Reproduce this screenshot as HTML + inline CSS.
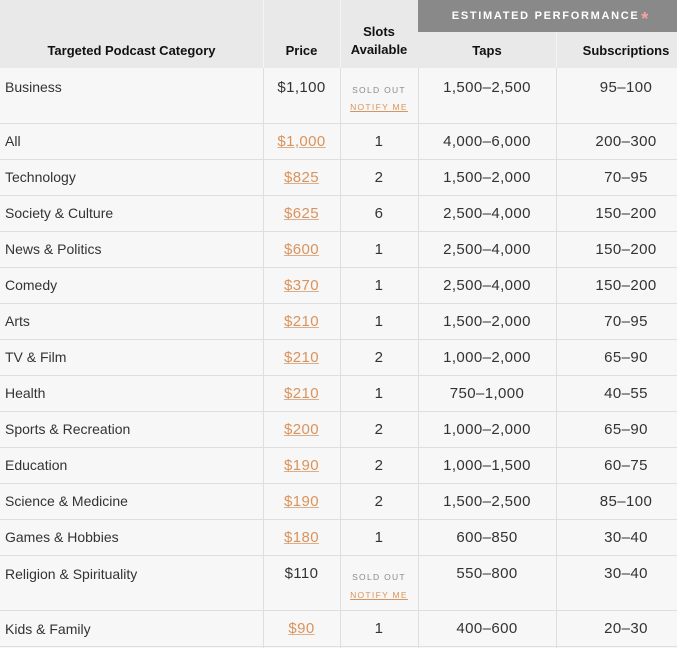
<!DOCTYPE html>
<html><head><meta charset="utf-8">
<style>
*{margin:0;padding:0;box-sizing:border-box}
html,body{width:677px;height:648px;overflow:hidden;background:#f7f7f7}
body{position:relative;font-family:"Liberation Sans",sans-serif;color:#333}
.hdr{position:absolute;left:0;top:0;width:700px;height:68px;background:#e9e9e9}
.band{position:absolute;left:418px;top:0;width:282px;height:32px;background:#898989;color:#fff;font-weight:bold;font-size:11px;letter-spacing:1.7px;text-align:center;line-height:32px;padding-right:18px}
.band span{color:#f4a3a3;font-size:18px;letter-spacing:0;vertical-align:-6px;margin-left:-3px;line-height:10px}
.hl{position:absolute;left:0;width:700px;height:1px;background:#dedede}
.vl{position:absolute;top:68px;width:1px;height:580px;background:#dedede}
.hvl{position:absolute;width:1px;background:#f4f4f4}
.h{position:absolute;font-weight:bold;font-size:13px;color:#111;text-align:center;line-height:18px}
.c{position:absolute;left:5px;font-size:14px;line-height:18px}
.n{position:absolute;font-size:15px;letter-spacing:0.4px;text-align:center;line-height:18px}
.p{color:#d9935c;text-decoration:underline;text-decoration-color:#dfae86}
.so{position:absolute;left:340px;width:78px;text-align:center;font-size:8.5px;letter-spacing:1.3px;color:#8a8a8a;line-height:10px}
.nm{position:absolute;left:340px;width:78px;text-align:center;font-size:8.5px;letter-spacing:1.3px;color:#d9935c;line-height:10px;text-decoration:underline}
</style></head><body>
<div class="hdr"></div>
<div class="band">ESTIMATED PERFORMANCE <span>*</span></div>
<div class="hvl" style="left:263px;top:0;height:68px"></div>
<div class="hvl" style="left:340px;top:0;height:68px"></div>
<div class="hvl" style="left:556px;top:32px;height:36px"></div>
<div class="h" style="left:0;width:263px;top:42px">Targeted Podcast Category</div>
<div class="h" style="left:263px;width:77px;top:42px">Price</div>
<div class="h" style="left:340px;width:78px;top:23px">Slots<br>Available</div>
<div class="h" style="left:418px;width:138px;top:42px">Taps</div>
<div class="h" style="left:556px;width:140px;top:42px">Subscriptions</div>

<div class="vl" style="left:263px"></div>
<div class="vl" style="left:340px"></div>
<div class="vl" style="left:418px"></div>
<div class="vl" style="left:556px"></div>

<div class="hl" style="top:123px"></div>
<div class="hl" style="top:159px"></div>
<div class="hl" style="top:195px"></div>
<div class="hl" style="top:231px"></div>
<div class="hl" style="top:267px"></div>
<div class="hl" style="top:303px"></div>
<div class="hl" style="top:339px"></div>
<div class="hl" style="top:375px"></div>
<div class="hl" style="top:411px"></div>
<div class="hl" style="top:447px"></div>
<div class="hl" style="top:483px"></div>
<div class="hl" style="top:519px"></div>
<div class="hl" style="top:555px"></div>
<div class="hl" style="top:610px"></div>
<div class="hl" style="top:646px"></div>

<!-- Business -->
<div class="c" style="top:78px">Business</div>
<div class="n" style="left:263px;width:77px;top:79px">$1,100</div>
<div class="so" style="top:85px">SOLD OUT</div>
<div class="nm" style="top:102px">NOTIFY ME</div>
<div class="n" style="left:418px;width:138px;top:79px">1,500–2,500</div>
<div class="n" style="left:556px;width:140px;top:79px">95–100</div>

<!-- rows -->
<div class="c" style="top:132px">All</div>
<div class="n" style="left:263px;width:77px;top:133px"><span class="p">$1,000</span></div>
<div class="n" style="left:340px;width:78px;top:133px">1</div>
<div class="n" style="left:418px;width:138px;top:133px">4,000–6,000</div>
<div class="n" style="left:556px;width:140px;top:133px">200–300</div>

<div class="c" style="top:168px">Technology</div>
<div class="n" style="left:263px;width:77px;top:169px"><span class="p">$825</span></div>
<div class="n" style="left:340px;width:78px;top:169px">2</div>
<div class="n" style="left:418px;width:138px;top:169px">1,500–2,000</div>
<div class="n" style="left:556px;width:140px;top:169px">70–95</div>

<div class="c" style="top:204px">Society &amp; Culture</div>
<div class="n" style="left:263px;width:77px;top:205px"><span class="p">$625</span></div>
<div class="n" style="left:340px;width:78px;top:205px">6</div>
<div class="n" style="left:418px;width:138px;top:205px">2,500–4,000</div>
<div class="n" style="left:556px;width:140px;top:205px">150–200</div>

<div class="c" style="top:240px">News &amp; Politics</div>
<div class="n" style="left:263px;width:77px;top:241px"><span class="p">$600</span></div>
<div class="n" style="left:340px;width:78px;top:241px">1</div>
<div class="n" style="left:418px;width:138px;top:241px">2,500–4,000</div>
<div class="n" style="left:556px;width:140px;top:241px">150–200</div>

<div class="c" style="top:276px">Comedy</div>
<div class="n" style="left:263px;width:77px;top:277px"><span class="p">$370</span></div>
<div class="n" style="left:340px;width:78px;top:277px">1</div>
<div class="n" style="left:418px;width:138px;top:277px">2,500–4,000</div>
<div class="n" style="left:556px;width:140px;top:277px">150–200</div>

<div class="c" style="top:312px">Arts</div>
<div class="n" style="left:263px;width:77px;top:313px"><span class="p">$210</span></div>
<div class="n" style="left:340px;width:78px;top:313px">1</div>
<div class="n" style="left:418px;width:138px;top:313px">1,500–2,000</div>
<div class="n" style="left:556px;width:140px;top:313px">70–95</div>

<div class="c" style="top:348px">TV &amp; Film</div>
<div class="n" style="left:263px;width:77px;top:349px"><span class="p">$210</span></div>
<div class="n" style="left:340px;width:78px;top:349px">2</div>
<div class="n" style="left:418px;width:138px;top:349px">1,000–2,000</div>
<div class="n" style="left:556px;width:140px;top:349px">65–90</div>

<div class="c" style="top:384px">Health</div>
<div class="n" style="left:263px;width:77px;top:385px"><span class="p">$210</span></div>
<div class="n" style="left:340px;width:78px;top:385px">1</div>
<div class="n" style="left:418px;width:138px;top:385px">750–1,000</div>
<div class="n" style="left:556px;width:140px;top:385px">40–55</div>

<div class="c" style="top:420px">Sports &amp; Recreation</div>
<div class="n" style="left:263px;width:77px;top:421px"><span class="p">$200</span></div>
<div class="n" style="left:340px;width:78px;top:421px">2</div>
<div class="n" style="left:418px;width:138px;top:421px">1,000–2,000</div>
<div class="n" style="left:556px;width:140px;top:421px">65–90</div>

<div class="c" style="top:456px">Education</div>
<div class="n" style="left:263px;width:77px;top:457px"><span class="p">$190</span></div>
<div class="n" style="left:340px;width:78px;top:457px">2</div>
<div class="n" style="left:418px;width:138px;top:457px">1,000–1,500</div>
<div class="n" style="left:556px;width:140px;top:457px">60–75</div>

<div class="c" style="top:492px">Science &amp; Medicine</div>
<div class="n" style="left:263px;width:77px;top:493px"><span class="p">$190</span></div>
<div class="n" style="left:340px;width:78px;top:493px">2</div>
<div class="n" style="left:418px;width:138px;top:493px">1,500–2,500</div>
<div class="n" style="left:556px;width:140px;top:493px">85–100</div>

<div class="c" style="top:528px">Games &amp; Hobbies</div>
<div class="n" style="left:263px;width:77px;top:529px"><span class="p">$180</span></div>
<div class="n" style="left:340px;width:78px;top:529px">1</div>
<div class="n" style="left:418px;width:138px;top:529px">600–850</div>
<div class="n" style="left:556px;width:140px;top:529px">30–40</div>

<!-- Religion -->
<div class="c" style="top:565px">Religion &amp; Spirituality</div>
<div class="n" style="left:263px;width:77px;top:565px">$110</div>
<div class="so" style="top:572px">SOLD OUT</div>
<div class="nm" style="top:590px">NOTIFY ME</div>
<div class="n" style="left:418px;width:138px;top:565px">550–800</div>
<div class="n" style="left:556px;width:140px;top:565px">30–40</div>

<div class="c" style="top:620px">Kids &amp; Family</div>
<div class="n" style="left:263px;width:77px;top:620px"><span class="p">$90</span></div>
<div class="n" style="left:340px;width:78px;top:620px">1</div>
<div class="n" style="left:418px;width:138px;top:620px">400–600</div>
<div class="n" style="left:556px;width:140px;top:620px">20–30</div>
</body></html>
